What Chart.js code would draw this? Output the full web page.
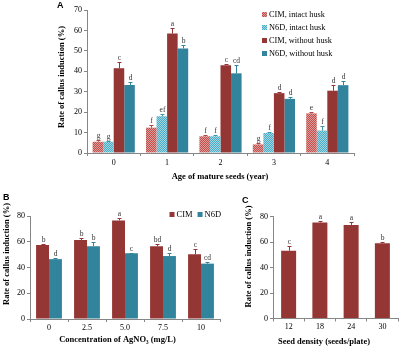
<!DOCTYPE html>
<html lang="en">
<head>
<meta charset="utf-8">
<title>Callus induction</title>
<script src="https://cdn.jsdelivr.net/npm/chart.js@4.4.1/dist/chart.umd.min.js"></script>
<style>
  body { margin: 0; background: #fff; }
  #fig { position: relative; width: 400px; height: 347px; overflow: hidden; }
  canvas { position: absolute; }
  .tag { position: absolute; font: bold 9px 'Liberation Sans', Arial, sans-serif; color: #000; }
</style>
</head>
<body>
<div id="fig">
  <canvas id="chartA" width="400" height="185" style="left:0;top:0"></canvas>
  <canvas id="chartB" width="228" height="159" style="left:0;top:188px"></canvas>
  <canvas id="chartC" width="172" height="159" style="left:228px;top:188px"></canvas>
  <div class="tag" style="left:57px;top:0">A</div>
  <div class="tag" style="left:3px;top:192px">B</div>
  <div class="tag" style="left:242px;top:195px">C</div>
</div>

<script>
// panel A : age of seeds
const ageLabels = ['0', '1', '2', '3', '4'];
const cimIntact = [5.5, 12.4, 8.2, 4.2, 19.4];
const cimIntactErr = [1.0, 1.5, 0.5, 0.5, 0.8];
const cimIntactSig = ['g', 'f', 'f', 'g', 'e'];
const n6dIntact = [5.5, 18.0, 8.2, 9.8, 11.0];
const n6dIntactErr = [0.5, 1.0, 0.5, 0.5, 2.0];
const n6dIntactSig = ['g', 'ef', 'f', 'f', 'f'];
const cimNoHusk = [41.5, 58.5, 43.0, 29.3, 30.5];
const cimNoHuskErr = [3.0, 2.5, 0.8, 0.5, 3.0];
const cimNoHuskSig = ['c', 'a', 'c', 'd', 'd'];
const n6dNoHusk = [33.3, 51.2, 39.0, 26.5, 33.2];
const n6dNoHuskErr = [1.5, 1.5, 4.0, 0.7, 2.0];
const n6dNoHuskSig = ['d', 'b', 'cd', 'd', 'd'];

// panel B : AgNO3
const agLabels = ['0', '2.5', '5.0', '7.5', '10'];
const agCim = [57.4, 61.3, 76.6, 56.6, 50.2];
const agCimErr = [0.5, 1.5, 1.5, 1.5, 4.0];
const agCimSig = ['b', 'b', 'a', 'bd', 'c'];
const agN6d = [46.5, 56.6, 51.0, 48.9, 43.0];
const agN6dErr = [0.5, 3.0, 0.4, 2.0, 1.5];
const agN6dSig = ['d', 'b', 'c', 'd', 'cd'];

// panel C : seed density
const densLabels = ['12', '18', '24', '30'];
const densCim = [53.2, 75.3, 73.4, 59.0];
const densCimErr = [3.5, 0.8, 2.5, 1.3];
const densCimSig = ['c', 'a', 'a', 'b'];

const yTitle = 'Rate of callus induction (%)';
const SERIF = '"Liberation Serif", "DejaVu Serif", serif';
const RED = '#943634', TEAL = '#31849b';

function hatch(base, light) {
  const c = document.createElement('canvas');
  c.width = 2; c.height = 2;
  const g = c.getContext('2d');
  g.fillStyle = base; g.fillRect(0, 0, 2, 2);
  g.fillStyle = light; g.fillRect(0, 0, 1, 1); g.fillRect(1, 1, 1, 1);
  return g.createPattern(c, 'repeat');
}

// error bars + significance letters
const sigBars = {
  id: 'sigBars',
  afterDatasetsDraw(chart) {
    const ctx = chart.ctx, y = chart.scales.y;
    chart.data.datasets.forEach((ds, i) => {
      chart.getDatasetMeta(i).data.forEach((bar, j) => {
        const top = Math.round(y.getPixelForValue(ds.data[j] + ds.errors[j])) + 0.5;
        const x = Math.round(bar.x) + 0.5;
        ctx.save();
        ctx.strokeStyle = ds.errColor; ctx.lineWidth = 1;
        ctx.beginPath();
        ctx.moveTo(x, bar.y); ctx.lineTo(x, top);
        ctx.moveTo(x - 2, top); ctx.lineTo(x + 2, top);
        ctx.stroke();
        ctx.fillStyle = '#333';
        ctx.font = '7.5px ' + SERIF;
        ctx.textAlign = 'center'; ctx.textBaseline = 'bottom';
        ctx.fillText(ds.letters[j], x, top - 0.5);
        ctx.restore();
      });
    });
  }
};

const boxLegend = {
  id: 'boxLegend',
  afterDraw(chart, args, o) {
    const ctx = chart.ctx;
    let x = o.x, y = o.y;
    ctx.save();
    ctx.font = o.size + 'px ' + SERIF;
    ctx.textBaseline = 'middle';
    chart.data.datasets.forEach(ds => {
      ctx.fillStyle = ds.backgroundColor;
      ctx.fillRect(x, y - 2.5, 5, 5);
      ctx.fillStyle = '#000';
      ctx.fillText(ds.label, x + 7, y + 0.5);
      if (o.horizontal) x += 7 + ctx.measureText(ds.label).width + o.gap;
      else y += o.step;
    });
    ctx.restore();
  }
};

const axisTitles = {
  id: 'axisTitles',
  afterDraw(chart, args, o) {
    const ctx = chart.ctx;
    ctx.save();
    ctx.font = 'bold 8.5px ' + SERIF;
    ctx.fillStyle = '#000';
    ctx.textAlign = 'center'; ctx.textBaseline = 'middle';
    ctx.fillText(o.xText, o.xAt[0], o.xAt[1]);
    ctx.translate(o.yAt[0], o.yAt[1]);
    ctx.rotate(-Math.PI / 2);
    ctx.fillText(o.yText, 0, 0);
    ctx.restore();
  }
};

function build(id, labels, datasets, L) {
  const tickFont = { family: SERIF, size: 8 };
  return new Chart(document.getElementById(id), {
    type: 'bar',
    data: { labels: labels, datasets: datasets },
    options: {
      responsive: false,
      animation: false,
      layout: { padding: L.padding },
      datasets: { bar: { barPercentage: 1, categoryPercentage: L.catPct, borderWidth: 0 } },
      scales: {
        x: {
          ticks: { color: '#000', font: tickFont, padding: L.xTickPad, maxRotation: 0 },
          grid: { drawOnChartArea: false, tickLength: 3, color: '#868686' },
          border: { color: '#868686' },
          afterFit(s) { s.height = L.xHeight; }
        },
        y: {
          min: 0, max: L.yMax,
          ticks: { stepSize: L.yStep, color: '#000', font: tickFont, padding: 2 },
          grid: { drawOnChartArea: false, tickLength: 3, color: '#868686' },
          border: { color: '#868686' },
          afterFit(s) { s.width = L.yWidth; }
        }
      },
      plugins: {
        legend: { display: false },
        tooltip: { enabled: false },
        boxLegend: L.legend,
        axisTitles: L.titles
      }
    },
    plugins: [sigBars, boxLegend, axisTitles]
  });
}

const ctxA = document.getElementById('chartA').getContext('2d');
build('chartA', ageLabels, [
  { label: 'CIM, intact husk', data: cimIntact, errors: cimIntactErr, letters: cimIntactSig,
    backgroundColor: hatch('#c0504d', '#dc9a98'), errColor: '#b04442' },
  { label: 'N6D, intact husk', data: n6dIntact, errors: n6dIntactErr, letters: n6dIntactSig,
    backgroundColor: hatch('#4bacc6', '#a2d5e2'), errColor: '#3b95ad' },
  { label: 'CIM, without husk', data: cimNoHusk, errors: cimNoHuskErr, letters: cimNoHuskSig,
    backgroundColor: RED, errColor: RED },
  { label: 'N6D, without husk', data: n6dNoHusk, errors: n6dNoHuskErr, letters: n6dNoHuskSig,
    backgroundColor: TEAL, errColor: TEAL }
], {
  padding: { left: 0, top: 10, right: 46, bottom: 0 },
  catPct: 0.79, yMax: 70, yStep: 10, yWidth: 87, xHeight: 32, xTickPad: 2,
  legend: { x: 262, y: 14.5, step: 13, size: 8.3, horizontal: false },
  titles: { xText: 'Age of mature seeds (year)', xAt: [220, 177], yText: yTitle, yAt: [62, 77] }
});

build('chartB', agLabels, [
  { label: 'CIM', data: agCim, errors: agCimErr, letters: agCimSig, backgroundColor: RED, errColor: RED },
  { label: 'N6D', data: agN6d, errors: agN6dErr, letters: agN6dSig, backgroundColor: TEAL, errColor: TEAL }
], {
  padding: { left: 0, top: 28, right: 8, bottom: 0 },
  catPct: 0.68, yMax: 80, yStep: 20, yWidth: 30, xHeight: 28, xTickPad: 1,
  legend: { x: 169.5, y: 26.5, gap: 5, size: 8.5, horizontal: true },
  titles: { xText: 'Concentration of AgNO\u2083 (mg/L)', xAt: [117.5, 151.3], yText: yTitle, yAt: [7, 66] }
});

build('chartC', densLabels, [
  { label: 'CIM', data: densCim, errors: densCimErr, letters: densCimSig, backgroundColor: RED, errColor: RED }
], {
  padding: { left: 0, top: 28.5, right: 2, bottom: 0 },
  catPct: 0.48, yMax: 80, yStep: 20, yWidth: 45, xHeight: 28.5, xTickPad: 1,
  legend: false,
  titles: { xText: 'Seed density (seeds/plate)', xAt: [96, 153.5], yText: yTitle, yAt: [21, 68.5] }
});
</script>
</body>
</html>
